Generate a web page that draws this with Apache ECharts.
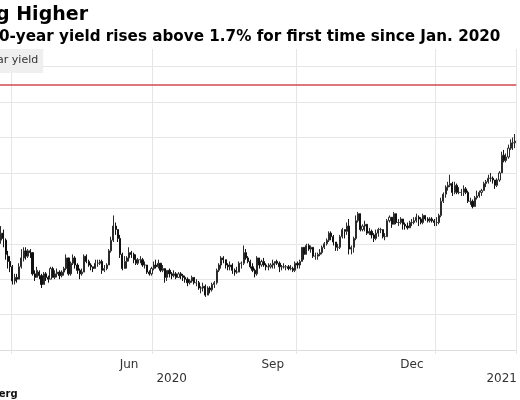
<!DOCTYPE html>
<html>
<head>
<meta charset="utf-8">
<script src="https://cdn.jsdelivr.net/npm/echarts@6/dist/echarts.min.js"></script>
<style>
  html, body { margin: 0; padding: 0; background: #ffffff; }
  #chart { width: 520px; height: 400px; }
</style>
</head>
<body>
<div id="chart"></div>
<script>
// Trading days (US Treasury market), Mar 25 2020 – Feb 24 2021
const dates = [
  '2020-03-25','2020-03-26','2020-03-27','2020-03-30','2020-03-31',
  '2020-04-01','2020-04-02','2020-04-03','2020-04-06','2020-04-07','2020-04-08','2020-04-09','2020-04-13','2020-04-14','2020-04-15','2020-04-16','2020-04-17','2020-04-20','2020-04-21','2020-04-22','2020-04-23','2020-04-24','2020-04-27','2020-04-28','2020-04-29','2020-04-30',
  '2020-05-01','2020-05-04','2020-05-05','2020-05-06','2020-05-07','2020-05-08','2020-05-11','2020-05-12','2020-05-13','2020-05-14','2020-05-15','2020-05-18','2020-05-19','2020-05-20','2020-05-21','2020-05-22','2020-05-26','2020-05-27','2020-05-28','2020-05-29',
  '2020-06-01','2020-06-02','2020-06-03','2020-06-04','2020-06-05','2020-06-08','2020-06-09','2020-06-10','2020-06-11','2020-06-12','2020-06-15','2020-06-16','2020-06-17','2020-06-18','2020-06-19','2020-06-22','2020-06-23','2020-06-24','2020-06-25','2020-06-26','2020-06-29','2020-06-30',
  '2020-07-01','2020-07-02','2020-07-06','2020-07-07','2020-07-08','2020-07-09','2020-07-10','2020-07-13','2020-07-14','2020-07-15','2020-07-16','2020-07-17','2020-07-20','2020-07-21','2020-07-22','2020-07-23','2020-07-24','2020-07-27','2020-07-28','2020-07-29','2020-07-30','2020-07-31',
  '2020-08-03','2020-08-04','2020-08-05','2020-08-06','2020-08-07','2020-08-10','2020-08-11','2020-08-12','2020-08-13','2020-08-14','2020-08-17','2020-08-18','2020-08-19','2020-08-20','2020-08-21','2020-08-24','2020-08-25','2020-08-26','2020-08-27','2020-08-28','2020-08-31',
  '2020-09-01','2020-09-02','2020-09-03','2020-09-04','2020-09-08','2020-09-09','2020-09-10','2020-09-11','2020-09-14','2020-09-15','2020-09-16','2020-09-17','2020-09-18','2020-09-21','2020-09-22','2020-09-23','2020-09-24','2020-09-25','2020-09-28','2020-09-29','2020-09-30',
  '2020-10-01','2020-10-02','2020-10-05','2020-10-06','2020-10-07','2020-10-08','2020-10-09','2020-10-13','2020-10-14','2020-10-15','2020-10-16','2020-10-19','2020-10-20','2020-10-21','2020-10-22','2020-10-23','2020-10-26','2020-10-27','2020-10-28','2020-10-29','2020-10-30',
  '2020-11-02','2020-11-03','2020-11-04','2020-11-05','2020-11-06','2020-11-09','2020-11-10','2020-11-12','2020-11-13','2020-11-16','2020-11-17','2020-11-18','2020-11-19','2020-11-20','2020-11-23','2020-11-24','2020-11-25','2020-11-27','2020-11-30',
  '2020-12-01','2020-12-02','2020-12-03','2020-12-04','2020-12-07','2020-12-08','2020-12-09','2020-12-10','2020-12-11','2020-12-14','2020-12-15','2020-12-16','2020-12-17','2020-12-18','2020-12-21','2020-12-22','2020-12-23','2020-12-24','2020-12-28','2020-12-29','2020-12-30','2020-12-31',
  '2021-01-04','2021-01-05','2021-01-06','2021-01-07','2021-01-08','2021-01-11','2021-01-12','2021-01-13','2021-01-14','2021-01-15','2021-01-19','2021-01-20','2021-01-21','2021-01-22','2021-01-25','2021-01-26','2021-01-27','2021-01-28','2021-01-29',
  '2021-02-01','2021-02-02','2021-02-03','2021-02-04','2021-02-05','2021-02-08','2021-02-09','2021-02-10','2021-02-11','2021-02-12','2021-02-16','2021-02-17','2021-02-18','2021-02-19','2021-02-22','2021-02-23','2021-02-24'
];

const openY = [
  .82,.86,.82,.73,.70,
  .67,.59,.61,.60,.67,.72,.76,.73,.76,.75,.63,.61,.64,.62,.57,.63,.61,.60,.66,.61,.63,
  .64,.62,.64,.66,.72,.63,.69,.72,.68,.65,.63,.64,.73,.70,.68,.67,.66,.69,.69,.70,
  .65,.66,.68,.76,.82,.90,.88,.83,.74,.66,.70,.72,.75,.74,.71,.69,.71,.71,.68,.68,.64,.63,
  .66,.68,.67,.69,.65,.66,.61,.65,.63,.62,.63,.61,.63,.62,.61,.60,.58,.59,.61,.58,.58,.55,
  .55,.56,.51,.55,.54,.57,.58,.65,.68,.72,.71,.68,.67,.68,.65,.64,.64,.69,.69,.75,.72,
  .70,.67,.65,.63,.72,.68,.70,.68,.67,.67,.68,.69,.70,.69,.67,.67,.67,.67,.66,.66,.65,
  .69,.68,.70,.78,.74,.79,.77,.78,.73,.73,.74,.75,.78,.80,.82,.86,.84,.81,.78,.78,.84,
  .88,.87,.90,.77,.78,.83,.93,.97,.88,.90,.91,.86,.87,.85,.83,.86,.88,.88,.84,
  .84,.93,.95,.91,.97,.92,.92,.94,.91,.90,.89,.92,.92,.93,.95,.94,.92,.96,.94,.93,.94,.93,
  .92,.92,.96,1.04,1.08,1.12,1.13,1.14,1.09,1.13,1.09,1.09,1.09,1.11,1.09,1.04,1.04,1.01,1.06,
  1.07,1.09,1.10,1.14,1.15,1.17,1.17,1.16,1.13,1.16,1.20,1.30,1.27,1.29,1.34,1.37,1.37
];
const highY = [
  .90,.88,.83,.76,.73,
  .68,.63,.63,.69,.77,.78,.78,.77,.77,.75,.65,.67,.65,.63,.64,.64,.62,.67,.67,.65,.66,
  .65,.65,.67,.74,.72,.70,.74,.73,.69,.66,.66,.74,.74,.71,.69,.67,.71,.71,.71,.71,
  .68,.69,.77,.84,.96,.92,.88,.85,.75,.73,.73,.78,.76,.75,.74,.72,.73,.72,.70,.68,.65,.67,
  .70,.71,.71,.69,.68,.66,.65,.66,.64,.65,.64,.64,.64,.63,.62,.61,.60,.62,.61,.60,.59,.56,
  .58,.57,.56,.56,.58,.59,.66,.69,.73,.73,.71,.69,.70,.69,.66,.67,.70,.70,.79,.77,.73,
  .71,.69,.66,.73,.72,.71,.72,.69,.69,.69,.71,.70,.71,.70,.68,.69,.68,.68,.68,.67,.70,
  .70,.71,.78,.78,.80,.80,.79,.78,.75,.75,.77,.79,.81,.83,.87,.87,.85,.81,.80,.85,.89,
  .88,.92,.94,.79,.84,.96,.98,.97,.91,.93,.91,.89,.88,.86,.88,.89,.89,.88,.86,
  .94,.96,.95,.98,.97,.94,.95,.94,.92,.92,.93,.94,.95,.97,.96,.95,.97,.96,.95,.95,.95,.94,
  .95,.97,1.06,1.09,1.13,1.15,1.19,1.15,1.15,1.14,1.12,1.11,1.13,1.12,1.10,1.06,1.05,1.07,1.10,
  1.10,1.11,1.15,1.16,1.19,1.20,1.18,1.16,1.17,1.21,1.32,1.33,1.31,1.36,1.39,1.40,1.42
];
const lowY = [
  .80,.78,.71,.66,.64,
  .57,.57,.58,.60,.66,.70,.71,.72,.72,.62,.59,.61,.60,.55,.57,.59,.58,.60,.61,.60,.61,
  .60,.61,.62,.65,.62,.62,.68,.66,.63,.60,.62,.64,.69,.67,.65,.64,.66,.67,.68,.63,
  .64,.65,.68,.75,.81,.85,.81,.72,.65,.66,.66,.70,.72,.69,.68,.68,.69,.67,.66,.63,.62,.62,
  .65,.66,.66,.64,.64,.58,.59,.61,.60,.61,.60,.61,.60,.59,.58,.56,.57,.58,.57,.56,.54,.52,
  .53,.50,.51,.52,.53,.55,.57,.64,.66,.69,.66,.65,.65,.63,.62,.63,.64,.66,.68,.71,.69,
  .66,.64,.61,.62,.66,.67,.67,.65,.65,.66,.66,.66,.68,.64,.65,.66,.65,.65,.65,.64,.64,
  .66,.66,.70,.71,.74,.76,.75,.72,.71,.71,.73,.74,.77,.79,.81,.82,.79,.76,.76,.77,.83,
  .83,.85,.74,.74,.75,.82,.92,.87,.87,.87,.85,.85,.83,.81,.82,.84,.86,.83,.82,
  .84,.92,.89,.91,.91,.90,.91,.88,.88,.88,.89,.90,.91,.92,.90,.91,.91,.93,.92,.92,.92,.90,
  .90,.91,.95,1.03,1.06,1.10,1.12,1.07,1.08,1.08,1.08,1.07,1.07,1.08,1.03,1.02,1.00,1.01,1.05,
  1.06,1.07,1.10,1.12,1.14,1.15,1.14,1.11,1.12,1.15,1.20,1.26,1.26,1.28,1.33,1.33,1.34
];
const closeY = [
  .86,.83,.74,.70,.67,
  .59,.61,.60,.67,.72,.76,.73,.76,.75,.63,.61,.65,.62,.57,.63,.61,.60,.66,.61,.63,.64,
  .62,.64,.66,.72,.63,.69,.72,.68,.65,.63,.64,.73,.70,.68,.67,.66,.69,.69,.70,.65,
  .66,.68,.76,.82,.90,.88,.83,.74,.66,.70,.72,.75,.74,.71,.69,.71,.71,.68,.68,.64,.63,.66,
  .68,.67,.69,.65,.66,.61,.65,.63,.62,.63,.61,.63,.62,.61,.60,.58,.59,.61,.58,.58,.55,.55,
  .56,.51,.55,.54,.57,.58,.65,.68,.72,.71,.68,.67,.68,.65,.64,.64,.69,.69,.75,.72,.70,
  .67,.65,.63,.72,.68,.70,.68,.67,.67,.68,.69,.70,.69,.67,.67,.67,.67,.66,.66,.65,.69,
  .68,.70,.78,.74,.79,.77,.78,.73,.73,.74,.75,.78,.80,.82,.86,.84,.81,.78,.78,.84,.88,
  .87,.90,.77,.78,.83,.93,.97,.88,.90,.91,.86,.87,.85,.83,.86,.88,.88,.84,.84,
  .93,.95,.91,.97,.92,.92,.94,.91,.90,.89,.92,.92,.93,.95,.94,.92,.96,.94,.93,.94,.93,.92,
  .92,.96,1.04,1.08,1.12,1.13,1.14,1.09,1.13,1.09,1.09,1.09,1.11,1.09,1.04,1.04,1.01,1.06,1.07,
  1.09,1.10,1.14,1.15,1.17,1.17,1.16,1.13,1.16,1.20,1.30,1.27,1.29,1.34,1.37,1.37,1.38
];

// Axis / annotation settings
const yMin = 0.2, yMax = 1.9, yStep = 0.2;
const threshold = 1.7;
const quarterStarts = ['2020-04-01','2020-07-01','2020-10-01','2021-01-04'];
const monthLabelDates = ['2020-06-16','2020-09-16','2020-12-16'];
const monthLabelTexts = ['Jun','Sep','Dec'];
const yearLabelDates = ['2020-07-14','2021-02-16'];
const yearLabelTexts = ['2020','2021'];

const candles = dates.map((d, i) => [openY[i], closeY[i], lowY[i], highY[i]]);
const FONT = 'DejaVu Sans';
const GRID_COLOR = '#e6e6e6';

const chart = echarts.init(document.getElementById('chart'), null, { renderer: 'canvas' });
chart.setOption({
  animation: false,
  backgroundColor: '#ffffff',
  title: [
    { text: 'g Higher', left: -4, top: 6, padding: 0,
      textStyle: { fontFamily: FONT, fontWeight: 'bold', fontSize: 19, color: '#000' } },
    { text: '0-year yield rises above 1.7% for first time since Jan. 2020', left: -1, top: 30, padding: 0,
      textStyle: { fontFamily: FONT, fontWeight: 'bold', fontSize: 15.2, color: '#000' } },
    { text: '10-year yield', left: -39, top: 49, padding: [6, 5, 7, 5], backgroundColor: '#efefef',
      textStyle: { fontFamily: FONT, fontWeight: 'normal', fontSize: 11, color: '#333' } },
    { text: 'Source: Bloomberg', left: -90, top: 389, padding: 0,
      textStyle: { fontFamily: FONT, fontWeight: 'bold', fontSize: 10, color: '#111' } }
  ],
  grid: { left: 0, right: 0, top: 49, bottom: 50, containLabel: false },
  xAxis: [
    {
      type: 'category', data: dates, boundaryGap: true,
      axisLine: { show: true, lineStyle: { color: '#dddddd', width: 1 } },
      axisTick: { show: true, length: 4, interval: (i, v) => quarterStarts.includes(v),
                  lineStyle: { color: GRID_COLOR } },
      splitLine: { show: true, interval: (i, v) => quarterStarts.includes(v),
                   lineStyle: { color: GRID_COLOR, width: 1 } },
      axisLabel: {
        interval: (i, v) => monthLabelDates.includes(v),
        formatter: v => { const k = monthLabelDates.indexOf(v); return k >= 0 ? monthLabelTexts[k] : ''; },
        color: '#333', fontFamily: FONT, fontSize: 12, margin: 9
      }
    },
    {
      type: 'category', data: dates, boundaryGap: true, position: 'bottom',
      axisLine: { show: false }, axisTick: { show: false }, splitLine: { show: false },
      axisLabel: {
        interval: (i, v) => yearLabelDates.includes(v),
        formatter: v => { const k = yearLabelDates.indexOf(v); return k >= 0 ? yearLabelTexts[k] : ''; },
        color: '#333', fontFamily: FONT, fontSize: 12, margin: 23
      }
    }
  ],
  yAxis: {
    type: 'value', min: yMin, max: yMax, interval: yStep,
    axisLine: { show: false }, axisTick: { show: false }, axisLabel: { show: false },
    splitLine: { show: true, showMaxLine: false, lineStyle: { color: GRID_COLOR, width: 1 } }
  },
  series: [{
    type: 'candlestick',
    xAxisIndex: 0,
    data: candles,
    barWidth: '72%',
    itemStyle: { color: '#ffffff', color0: '#111111', borderColor: '#2a2a2a', borderColor0: '#111111', borderWidth: 1 },
    markLine: {
      silent: true, symbol: 'none', label: { show: false },
      lineStyle: { color: '#d0484f', width: 1.6, type: 'solid' },
      data: [{ yAxis: threshold }]
    }
  }]
});
</script>
</body>
</html>
